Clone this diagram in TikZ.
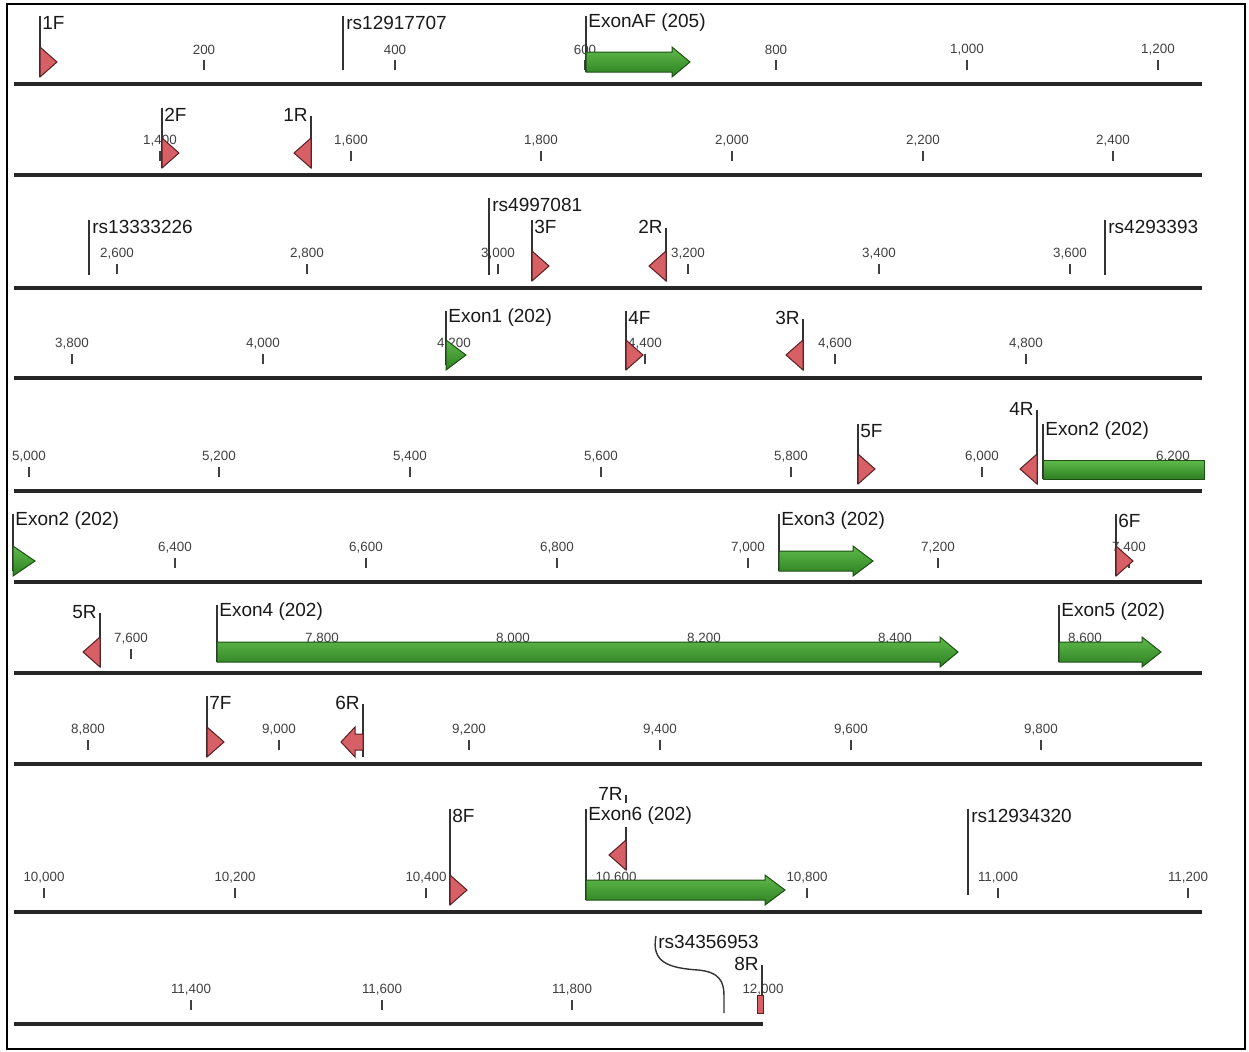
\documentclass[tikz,border=0pt]{standalone}
\usepackage{fontspec}
\setmainfont{Liberation Sans}
\definecolor{prim}{RGB}{214,96,102}
\definecolor{primd}{RGB}{90,30,35}
\definecolor{exl}{RGB}{96,186,76}
\definecolor{exd}{RGB}{44,128,32}
\definecolor{exo}{RGB}{30,80,20}
% ticks: baseline y, list x/label
\newcommand\myticks[2]{\foreach \tx/\tl in {#2}{\draw[tickmark] (\tx,#1-24) -- (\tx,#1-14); \node[ticklab] (tk-#1-\tx) at (\tx,#1-34) {\tl};}}
% forward primer: name, x, label y, centre y, label
\newcommand\fwdp[5]{\draw[mline] (#2,#3-7) -- (#2,#4+15);
 \draw[primer] (#2,#4-15) -- (#2+17,#4) -- (#2,#4+15) -- cycle;
 \node[flab,anchor=west] (#1) at (#2+2,#3) {#5};}
% reverse primer
\newcommand\revp[5]{\draw[mline] (#2,#3+1) -- (#2,#4+15);
 \draw[primer] (#2,#4-15) -- (#2-17,#4) -- (#2,#4+15) -- cycle;
 \node[flab,anchor=east] (#1) at (#2-3,#3) {#5};}
% exon arrow: name, x, label y, centre y, body end, tip, label
\newcommand\exonarr[7]{\draw[mline] (#2,#3-7) -- (#2,#4+10);
 \draw[exonshape] (#2,#4-10) -- (#5,#4-10) -- (#5,#4-15) -- (#6,#4) -- (#5,#4+15) -- (#5,#4+10) -- (#2,#4+10) -- cycle;
 \node[flab,anchor=west] (#1) at (#2+2,#3) {#7};}
% snp: name, x, label y, bottom, label
\newcommand\snpm[5]{\draw[mline] (#2,#3-7) -- (#2,#4);
 \node[flab,anchor=west] (#1) at (#2+3,#3) {#5};}
\begin{document}
\begin{tikzpicture}[x=0.5pt,y=-0.5pt,
 base/.style={line width=1.6pt,black!85},
 tickmark/.style={line width=0.9pt,black!75},
 ticklab/.style={font=\fontsize{6.7}{7}\selectfont,text=black!75,inner sep=0pt},
 flab/.style={font=\fontsize{9.5}{10}\selectfont,text=black!90,inner sep=0pt},
 mline/.style={line width=0.7pt,black!80},
 primer/.style={fill=prim,draw=primd,line width=0.5pt},
 exonshape/.style={top color=exl,bottom color=exd,draw=exo,line width=0.5pt}]
\useasboundingbox (0,0) rectangle (1249,1051);
\draw[line width=1.1pt] (7,4) rectangle (1245,1049);
% baselines
\foreach \by in {84,175,288,378,491,582,673,764,912}{\draw[base] (14,\by) -- (1202,\by);}
\draw[base] (14,1024) -- (763,1024);
% ticks
\myticks{84}{204/200,395/400,585/600,776/800,967/{1,000},1158/{1,200}}
\myticks{175}{160/{1,400},351/{1,600},541/{1,800},732/{2,000},923/{2,200},1113/{2,400}}
\myticks{288}{117/{2,600},307/{2,800},498/{3,000},688/{3,200},879/{3,400},1070/{3,600}}
\myticks{378}{72/{3,800},263/{4,000},454/{4,200},645/{4,400},835/{4,600},1026/{4,800}}
\myticks{491}{29/{5,000},219/{5,200},410/{5,400},601/{5,600},791/{5,800},982/{6,000},1173/{6,200}}
\myticks{582}{175/{6,400},366/{6,600},557/{6,800},748/{7,000},938/{7,200},1129/{7,400}}
\myticks{673}{131/{7,600},322/{7,800},513/{8,000},704/{8,200},895/{8,400},1085/{8,600}}
\myticks{764}{88/{8,800},279/{9,000},469/{9,200},660/{9,400},851/{9,600},1041/{9,800}}
\myticks{912}{44/{10,000},235/{10,200},426/{10,400},616/{10,600},807/{10,800},998/{11,000},1188/{11,200}}
\myticks{1024}{191/{11,400},382/{11,600},572/{11,800},763/{12,000}}
% row 1
\fwdp{p1F}{40}{23}{62}{1F}
\snpm{s1}{343}{23}{70}{rs12917707}
\exonarr{eAF}{586}{23}{62}{672}{690}{ExonAF (205)}
% row 2
\fwdp{p2F}{162}{115}{153}{2F}
\revp{p1R}{311}{115}{153}{1R}
% row 3
\snpm{s2}{89}{227}{275}{rs13333226}
\snpm{s3}{489}{205}{275}{rs4997081}
\fwdp{p3F}{532}{227}{266}{3F}
\revp{p2R}{666}{227}{266}{2R}
\snpm{s4}{1105}{227}{275}{rs4293393}
% row 4
\exonarr{e1}{446}{318}{355}{446}{466}{Exon1 (202)}
\fwdp{p4F}{626}{318}{355}{4F}
\revp{p3R}{803}{318}{355}{3R}
% row 5
\fwdp{p5F}{858}{431}{469}{5F}
\revp{p4R}{1037}{409}{469}{4R}
\draw[mline] (1043,424) -- (1043,479);
\draw[exonshape] (1043,460) rectangle (1204,479);
\node[flab,anchor=west] (e2a) at (1045,431) {Exon2 (202)};
% row 6
\exonarr{e2b}{13}{521}{561}{13}{35}{Exon2 (202)}
\exonarr{e3}{779}{521}{561}{853}{873}{Exon3 (202)}
\fwdp{p6F}{1116}{521}{561}{6F}
% row 7
\revp{p5R}{100}{612}{652}{5R}
\exonarr{e4}{217}{612}{652}{940}{958}{Exon4 (202)}
\exonarr{e5}{1059}{612}{652}{1142}{1161}{Exon5 (202)}
% row 8
\fwdp{p7F}{207}{703}{742}{7F}
\draw[mline] (363,704) -- (363,757);
\draw[primer] (363,734) -- (355,734) -- (355,727) -- (341,742) -- (355,757) -- (355,750) -- (363,750) -- cycle;
\node[flab,anchor=east] (p6R) at (360,703) {6R};
% row 9
\exonarr{e6}{586}{816}{890}{765}{785}{Exon6 (202)}
\fwdp{p8F}{450}{816}{890}{8F}
\draw[mline] (626,795) -- (626,803);
\draw[mline] (626,827) -- (626,870);
\draw[primer] (626,840) -- (609,855) -- (626,870) -- cycle;
\node[flab,anchor=east] (p7R) at (623,794) {7R};
\snpm{s5}{968}{816}{895}{rs12934320}
% row 10
\node[flab,anchor=west] (s6) at (658,942) {rs34356953};
\draw[mline] (656,936) .. controls (651,962) and (668,968) .. (698,970) .. controls (720,972) and (724,982) .. (724,996) -- (724,1013);
\draw[mline] (762,965) -- (762,1014);
\draw[primer] (757,995) rectangle (763,1013);
\node[flab,anchor=east] (p8R) at (759,964) {8R};
\end{tikzpicture}
\end{document}
